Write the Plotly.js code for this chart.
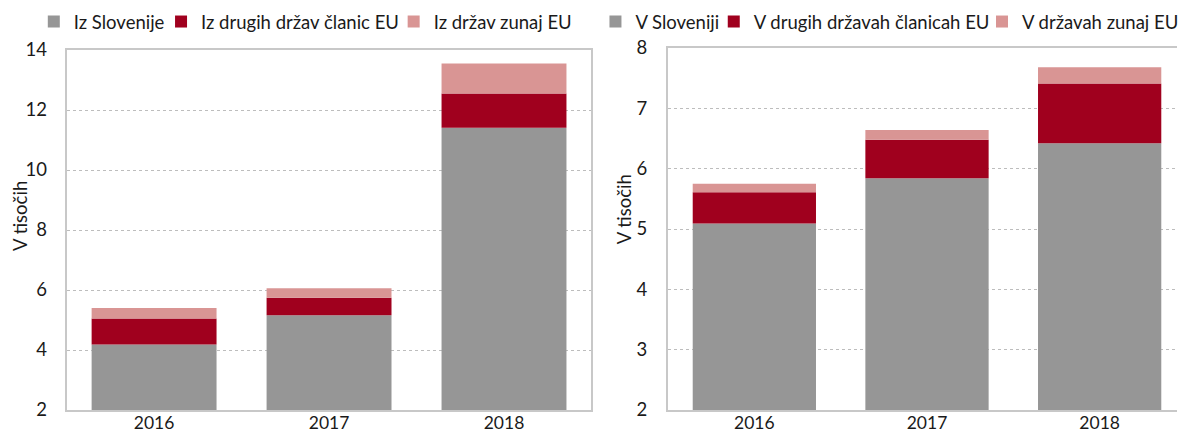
<!DOCTYPE html>
<html>
<head>
<meta charset="utf-8">
<script src="https://cdn.plot.ly/plotly-3.0.1.min.js"></script>
<style>html,body{margin:0;padding:0;background:#fff;}#chart{width:1184px;height:434px;}</style>
</head>
<body>
<div id="chart"></div>
<script>
// Data
var years = ['2016', '2017', '2018'];
// Left chart, in thousands
var leftNames = ['Iz Slovenije', 'Iz drugih držav članic EU', 'Iz držav zunaj EU'];
var leftSlovenia = [4.18, 5.16, 11.41];
var leftEU = [0.87, 0.58, 1.14];
var leftNonEU = [0.35, 0.32, 1.00];
// Right chart, in thousands
var rightNames = ['V Sloveniji', 'V drugih državah članicah EU', 'V državah zunaj EU'];
var rightSlovenia = [5.09, 5.84, 6.42];
var rightEU = [0.52, 0.64, 0.99];
var rightNonEU = [0.14, 0.16, 0.27];
var yTitle = 'V tisočih';

var colors = ['#969696', '#a0001e', '#d99594'];
var W = 1184, H = 434;
var FONT = 'Lato, "Open Sans", sans-serif';
var FS = 18.5;
var TXT = '#1a1a1a';

function bar(x, y, base, name, color, xa, ya, leg) {
  return {
    type: 'bar', x: x, y: y, base: base, name: name,
    marker: {color: color, line: {width: 0}},
    xaxis: xa, yaxis: ya, legend: leg, hoverinfo: 'x+y+name'
  };
}
function sub(a, c) { return a.map(function(v){ return v - c; }); }
function add(a, b) { return a.map(function(v, i){ return v + b[i]; }); }

var data = [
  bar(years, sub(leftSlovenia, 2), 2, leftNames[0], colors[0], 'x', 'y', 'legend'),
  bar(years, leftEU, leftSlovenia, leftNames[1], colors[1], 'x', 'y', 'legend2'),
  bar(years, leftNonEU, add(leftSlovenia, leftEU), leftNames[2], colors[2], 'x', 'y', 'legend3'),
  bar(years, sub(rightSlovenia, 2), 2, rightNames[0], colors[0], 'x2', 'y2', 'legend4'),
  bar(years, rightEU, rightSlovenia, rightNames[1], colors[1], 'x2', 'y2', 'legend5'),
  bar(years, rightNonEU, add(rightSlovenia, rightEU), rightNames[2], colors[2], 'x2', 'y2', 'legend6')
];

function px(x){return x/W;}
function py(y){return 1-y/H;}

function legendAt(textX) {
  return {
    x: px(textX - 38), xanchor: 'left', y: py(22), yanchor: 'middle',
    orientation: 'h', bgcolor: 'rgba(0,0,0,0)', borderwidth: 0,
    font: {family: FONT, size: FS, color: TXT}, itemclick: false
  };
}

var axisCommon = {
  showline: true, linecolor: '#c8c8c8', linewidth: 2,
  tickfont: {family: FONT, size: FS, color: TXT},
  zeroline: false, fixedrange: true
};
var xTickFont = {family: FONT, size: 17.5, color: TXT};

var layout = {
  width: W, height: H,
  margin: {l: 0, r: 0, t: 0, b: 0},
  paper_bgcolor: '#fff', plot_bgcolor: '#fff',
  barmode: 'overlay', bargap: 0.286,
  font: {family: FONT, size: FS, color: TXT},
  showlegend: true,
  legend: legendAt(72),
  legend2: legendAt(200),
  legend3: legendAt(434),
  legend4: legendAt(637),
  legend5: legendAt(756),
  legend6: legendAt(1026),
  xaxis: Object.assign({}, axisCommon, {
    domain: [px(67), px(595)], anchor: 'y', type: 'category',
    range: [-0.5, 2.5], mirror: true, showgrid: false, tickfont: xTickFont,
    ticks: '', ticklabelstandoff: -4
  }),
  yaxis: Object.assign({}, axisCommon, {
    domain: [py(410), py(50)], anchor: 'x', range: [2, 14], dtick: 2,
    mirror: true, showgrid: true, gridcolor: '#bdbdbd', griddash: 'dot', gridwidth: 1,
    ticks: '', ticklabelstandoff: 14
  }),
  xaxis2: Object.assign({}, axisCommon, {
    domain: [px(672), 1], anchor: 'y2', type: 'category',
    range: [-0.5, 2.448], mirror: true, showgrid: false, tickfont: xTickFont,
    ticks: '', ticklabelstandoff: -4
  }),
  yaxis2: Object.assign({}, axisCommon, {
    domain: [py(410), py(48)], anchor: 'x2', range: [2, 8], dtick: 1,
    mirror: false, showgrid: true, gridcolor: '#bdbdbd', griddash: 'dot', gridwidth: 1,
    ticks: '', ticklabelstandoff: 15
  }),
  annotations: [
    {text: yTitle, xref: 'paper', yref: 'paper', x: px(20), y: py(216), textangle: -90,
     showarrow: false, xanchor: 'center', yanchor: 'middle', font: {family: FONT, size: FS, color: TXT}},
    {text: yTitle, xref: 'paper', yref: 'paper', x: px(628), y: py(209), textangle: -90,
     showarrow: false, xanchor: 'center', yanchor: 'middle', font: {family: FONT, size: FS, color: TXT}}
  ]
};

Plotly.newPlot('chart', data, layout, {displayModeBar: false, staticPlot: true});
</script>
</body>
</html>
